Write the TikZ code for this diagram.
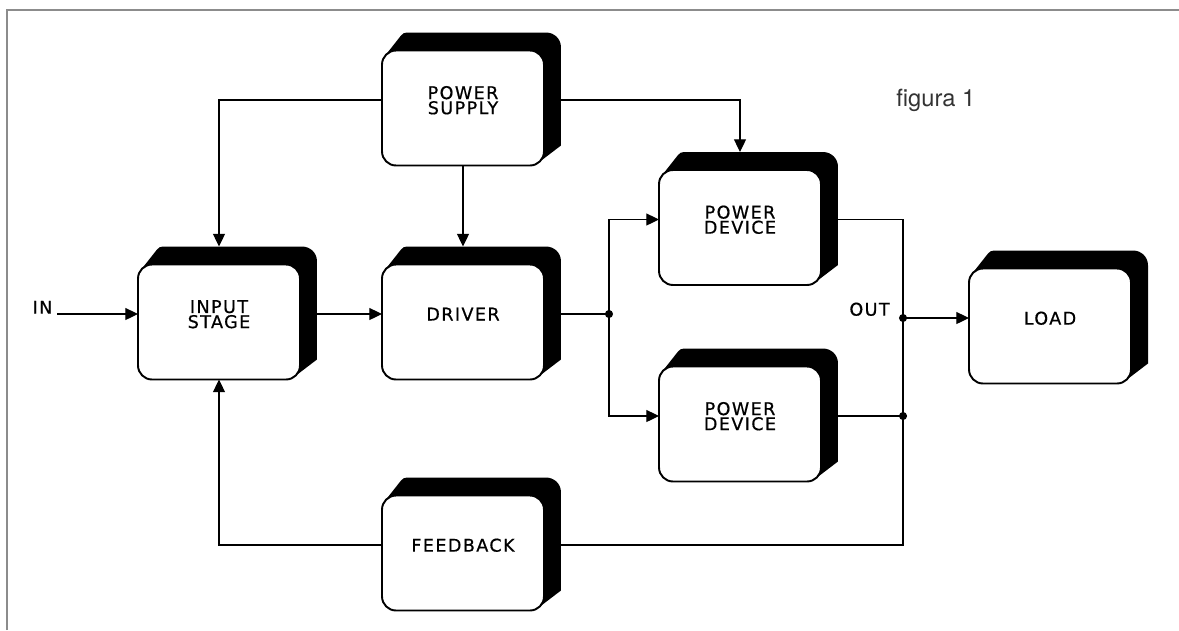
\documentclass[tikz,border=0pt]{standalone}
\usepackage{fontspec}
\usepackage{tikz}
\usetikzlibrary{arrows.meta,backgrounds}
\newfontfamily\plotfont[LetterSpace=8,FakeBold=0.6]{DejaVu Sans}
\newfontfamily\capfont{TeX Gyre Heros}
\newcommand\blocklabel[1]{\raisebox{9pt}{\parbox[b]{2.8cm}{\centering #1}}}

\begin{document}
\begin{tikzpicture}[x=0.02cm,y=-0.02cm,
  block/.style={draw,line width=1.1pt,fill=white,rounded corners=0.28cm,minimum width=3.24cm,minimum height=2.3cm,inner sep=0pt,outer sep=0pt,font=\plotfont\fontsize{10}{8.6}\selectfont},
  tag/.style={font=\plotfont\fontsize{10}{8.6}\selectfont,inner sep=0pt},
  lvl/.style={shift={(0,-8)}}, rim/.style={shift={(0,-18)}},
  wire/.style={line width=0.7pt}, arr/.style={wire,-{Triangle[length=7.2pt,width=6.8pt]}}]
  \useasboundingbox (0,0) rectangle (1179,630);
  \draw[black!45,line width=0.8pt] (7,630) -- (7,10) -- (1179,10);
  \node[anchor=base west,font=\capfont\fontsize{13.5}{15}\selectfont,text=black!80,inner sep=0pt] (fig) at (896,106) {figura 1};

  \node[block] (supply) at (463,108) {\blocklabel{POWER\\SUPPLY}};
  \node[block] (input) at (219,322) {\blocklabel{INPUT\\STAGE}};
  \node[block] (driver) at (463,322) {\blocklabel{DRIVER}};
  \node[block] (pdevA) at (740,227.5) {\blocklabel{POWER\\DEVICE}};
  \node[block] (pdevB) at (740,424) {\blocklabel{POWER\\DEVICE}};
  \node[block] (load) at (1050,326) {\blocklabel{LOAD}};
  \node[block] (feedback) at (463,553) {\blocklabel{FEEDBACK}};

  \begin{scope}[on background layer]
    \foreach \b in {supply,input,driver,pdevA,pdevB,load,feedback} {
      \fill ([shift={(4,4)}]\b.north west) -- ([shift={(19,-15)}]\b.north west) .. controls ([shift={(21,-17)}]\b.north west) and ([shift={(22,-18)}]\b.north west) .. ([shift={(25,-18)}]\b.north west)
        -- ([shift={(2,-18)}]\b.north east) .. controls ([shift={(10,-18)}]\b.north east) and ([shift={(17,-12)}]\b.north east) .. ([shift={(17,-3)}]\b.north east)
        -- ([shift={(17,-20)}]\b.south east) -- ([shift={(-4,-4)}]\b.south east) -- cycle;
      \coordinate (\b w) at ([lvl]\b.west); \coordinate (\b e) at ([lvl]\b.east);
    }
  \end{scope}

  \coordinate (split) at ([shift={(65,0)}]drivere);
  \coordinate (out) at ([shift={(-66,0)}]loadw);
  \coordinate (tapB) at (pdevBe -| out);
  \node[tag,anchor=south east,inner xsep=2.5pt] (inlbl) at ([shift={(-81,0)}]inputw) {IN};
  \node[tag,anchor=south east,inner ysep=1pt] (outlbl) at ([shift={(-13,0)}]out) {OUT};

  \draw[arr] (inlbl.south east) -- (inputw);
  \draw[arr] (inpute) -- (driverw);
  \draw[wire] (drivere) -- (split);
  \draw[arr] (split) |- (pdevAw);
  \draw[arr] (split) |- (pdevBw);
  \draw[wire] (pdevAe) -| (out) |- (feedbacke);
  \draw[wire] (pdevBe) -- (tapB);
  \draw[arr] (out) -- (loadw);
  \draw[arr] (feedbackw) -| (input.south);
  \draw[arr] (supplyw) -| ([rim]input.north);
  \draw[arr] (supply.south) -- ([rim]driver.north);
  \draw[arr] (supplye) -| ([rim]pdevA.north);
  \foreach \j in {split,out,tapB} \fill (\j) circle[radius=2.3pt];
\end{tikzpicture}
\end{document}
